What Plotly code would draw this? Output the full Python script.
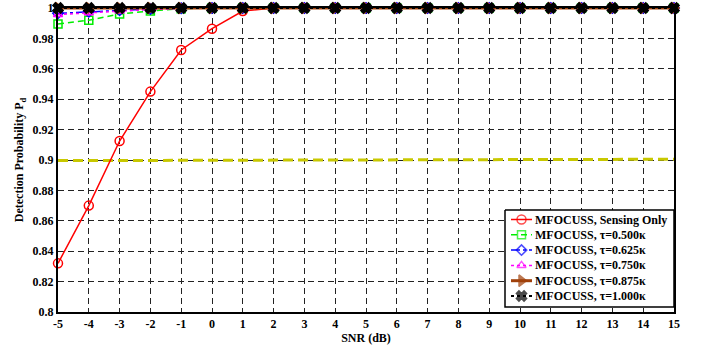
import plotly.graph_objects as go

snr = list(range(-5, 16))
sensing_only = [0.832, 0.870, 0.9125, 0.945, 0.9724, 0.9864, 0.998] + [1.0] * 14
tau_0500 = [0.9895, 0.992, 0.996, 0.998, 0.9995] + [1.0] * 16
tau_0625 = [0.9965, 0.9975, 0.9985, 0.9993, 0.9998] + [1.0] * 16
tau_0750 = [0.9957, 0.9968, 0.998, 0.999, 0.9997] + [1.0] * 16
tau_0875 = [1.0] * 21
tau_1000 = [1.0] * 21
threshold_x = [-5, 15]
threshold_y = [0.8996, 0.9005]
y_ticks = [0.8, 0.82, 0.84, 0.86, 0.88, 0.9, 0.92, 0.94, 0.96, 0.98, 1.0]
y_ticktext = ["0.8", "0.82", "0.84", "0.86", "0.88", "0.9", "0.92", "0.94", "0.96", "0.98", "1"]

names = ["MFOCUSS, Sensing Only", "MFOCUSS, τ=0.500κ", "MFOCUSS, τ=0.625κ",
         "MFOCUSS, τ=0.750κ", "MFOCUSS, τ=0.875κ", "MFOCUSS, τ=1.000κ"]
series = [sensing_only, tau_0500, tau_0625, tau_0750, tau_0875, tau_1000]
colors = ["#ff0000", "#00ee00", "#0000ff", "#ff00ff", "#a0400a", "#000000"]
dashes = ["solid", "6px,4px", "dashdot", "dot", "solid", "dot"]
symbols = ["circle-open", "square-open", "diamond-open", "triangle-up-open", "triangle-right", "x"]
widths = [1.5, 1.5, 1.5, 1.5, 3, 2]
msizes = [9, 8, 8, 8, 10, 9]

# plot-area geometry (pixels) used only to place the hand-built legend
W, H = 702, 345
L, R, T, B = 58, 28, 8, 33
px0, px1 = L, W - R
py0, py1 = T, H - B
row0, row_step = 219.5, 15.3      # legend row centres (px)
samp0, samp_w = 511.0, 21.0        # legend sample start / width (px)

fig = go.Figure()
fig.add_trace(go.Scatter(x=threshold_x, y=threshold_y, mode="lines",
                         line=dict(color="#c8c800", width=3, dash="10px,5px"),
                         showlegend=False, hoverinfo="skip"))
for n, s, c, d, sym, w, ms in zip(names, series, colors, dashes, symbols, widths, msizes):
    fig.add_trace(go.Scatter(x=snr, y=s, name=n, mode="lines+markers",
                             line=dict(color=c, width=w, dash=d),
                             marker=dict(symbol=sym, size=ms, color=c,
                                         line=dict(color=c, width=1.5)),
                             cliponaxis=False, showlegend=False))

# legend drawn on an overlay axis pair: x2 in sample-width units, y2 in row units
x2_range = [(px0 - samp0) / samp_w, (px1 - samp0) / samp_w]
y2_range = [(py1 - row0) / row_step, (py0 - row0) / row_step]
box_x = [(505 - samp0) / samp_w, (674 - samp0) / samp_w]
box_y = [(210 - row0) / row_step, (307 - row0) / row_step]
fig.add_trace(go.Scatter(x=[box_x[0], box_x[1], box_x[1], box_x[0], box_x[0]],
                         y=[box_y[0], box_y[0], box_y[1], box_y[1], box_y[0]],
                         mode="lines", fill="toself", fillcolor="white",
                         line=dict(color="black", width=1.5),
                         xaxis="x2", yaxis="y2", showlegend=False, hoverinfo="skip"))
for i, (c, d, sym, w, ms) in enumerate(zip(colors, dashes, symbols, widths, msizes)):
    fig.add_trace(go.Scatter(x=[0, 0.5, 1], y=[i, i, i], mode="lines+markers",
                             line=dict(color=c, width=w, dash=d),
                             marker=dict(symbol=sym, size=[0, ms, 0], color=c,
                                         line=dict(color=c, width=1.5)),
                             xaxis="x2", yaxis="y2", showlegend=False, hoverinfo="skip"))
annotations = []
for i, n in enumerate(names):
    annotations.append(dict(x=(samp_w + 1) / samp_w, y=i, xref="x2", yref="y2",
                            text=n, showarrow=False, xanchor="left", yanchor="middle",
                            font=dict(family="Liberation Serif", size=12, color="black", weight="bold")))

font = dict(family="Liberation Serif", size=12, color="black", weight="bold")
fig.update_layout(
    width=W, height=H,
    margin=dict(l=L, r=R, t=T, b=B),
    paper_bgcolor="white", plot_bgcolor="white",
    font=font, showlegend=False,
    xaxis=dict(range=[-5, 15], tickmode="array", tickvals=snr,
               ticktext=[str(v) for v in snr], automargin=False,
               showgrid=True, gridcolor="#222222", gridwidth=1, griddash="6px,4px",
               showline=True, linecolor="black", linewidth=2, mirror=True,
               ticks="", zeroline=False,
               title=dict(text="SNR (dB)", font=font, standoff=6)),
    yaxis=dict(range=[0.8, 1.0], tickmode="array", tickvals=y_ticks, ticktext=y_ticktext,
               automargin=False,
               showgrid=True, gridcolor="#222222", gridwidth=1, griddash="6px,4px",
               showline=True, linecolor="black", linewidth=2, mirror=True,
               ticks="", zeroline=False,
               title=dict(text="Detection Probability P<sub>d</sub>", font=font, standoff=6)),
    xaxis2=dict(overlaying="x", range=x2_range, visible=False, fixedrange=True),
    yaxis2=dict(overlaying="y", range=y2_range, visible=False, fixedrange=True),
    annotations=annotations,
)
fig.write_html("out.html")
